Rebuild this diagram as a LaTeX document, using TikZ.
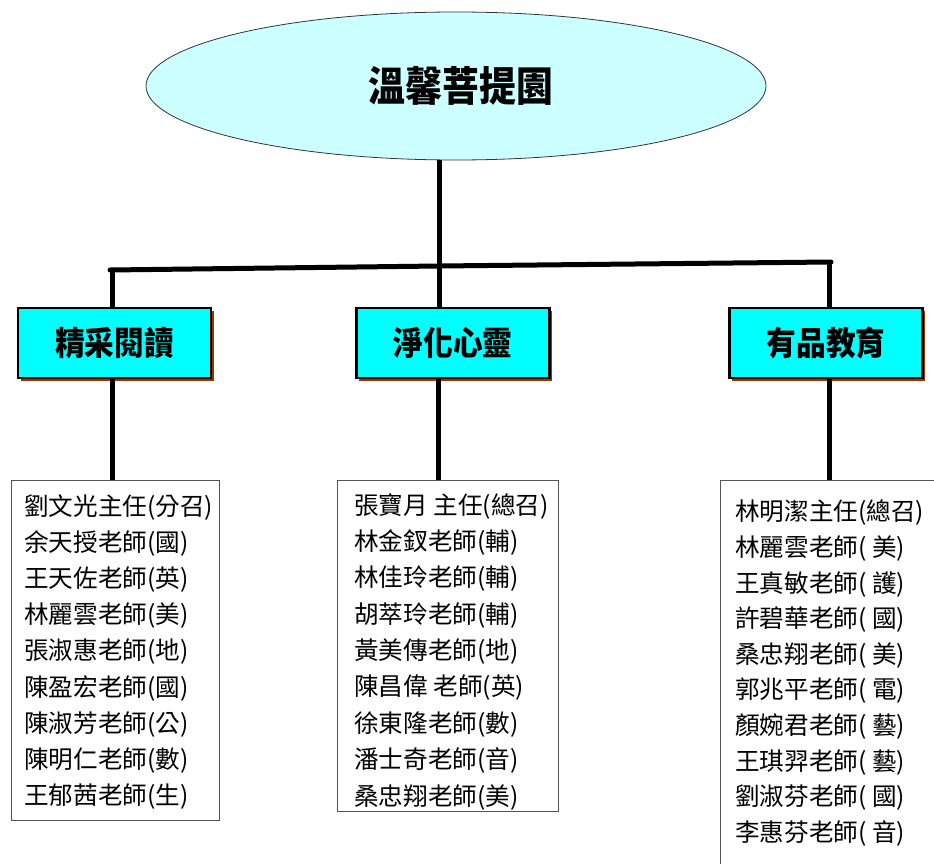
\documentclass[tikz,border=0pt]{standalone}
\usepackage{fontspec}
\newfontfamily\cjk{Noto Sans CJK TC}
\newfontfamily\cjkhead[FakeStretch=0.9]{Noto Sans CJK TC}
\usetikzlibrary{shapes.geometric,shadows}
\definecolor{ellfill}{HTML}{CCFFFF}
\definecolor{boxfill}{HTML}{00FFFF}
\definecolor{shadowbrown}{HTML}{993300}
\definecolor{listedge}{HTML}{555555}
\tikzset{
  rootnode/.style={ellipse, draw=black!80, line width=0.8pt, fill=ellfill,
    minimum width=620pt, minimum height=148pt, inner sep=0pt,
    font=\cjkhead\bfseries\fontsize{41}{44}\selectfont},
  groupbox/.style={rectangle, draw=black, line width=2.5pt, fill=boxfill,
    minimum width=193pt, minimum height=70pt, inner sep=0pt,
    drop shadow={shadow xshift=2.5pt, shadow yshift=-2.5pt, fill=shadowbrown, opacity=1},
    font=\cjkhead\bfseries\fontsize{33}{36}\selectfont},
  listbox/.style={rectangle, draw=listedge, line width=1pt, fill=white,
    inner sep=0pt, anchor=north west},
  item/.style={anchor=west, inner sep=0pt, font=\cjk\fontsize{24.6}{30}\selectfont},
  conn/.style={line width=5pt, line cap=butt},
}
\begin{document}
\begin{tikzpicture}[x=1pt,y=-1pt]
\useasboundingbox (0,0) rectangle (934,864);
\fill[white] (0,0) rectangle (934,864);

% root
\node[rootnode] (root) at (456,86) {\hspace*{10pt}溫馨菩提園};

% junction points
\coordinate (jl) at (112,270);
\coordinate (jc) at (439,266);
\coordinate (jr) at (829,262);

% group boxes
\node[groupbox] (g1) at (114.5,343) {\raisebox{4pt}{精采閱讀}};
\node[groupbox] (g2) at (453,343) {\raisebox{4pt}{淨化心靈}};
\node[groupbox] (g3) at (826,343) {\raisebox{4pt}{有品教育}};

% list boxes
\node[listbox, minimum width=208pt, minimum height=340pt] (la) at (11,480) {};
\node[listbox, minimum width=221pt, minimum height=331pt] (lb) at (337,480) {};
\node[listbox, minimum width=230pt, minimum height=420pt] (lc) at (720,480) {};

% connectors
\draw[conn] (root.south -| jc) -- (jc);
\draw[conn, line cap=round] ([xshift=-2pt]jl) -- (jc) -- ([xshift=2pt]jr);
\draw[conn] ([yshift=-2pt]jl) -- ([yshift=-1.3pt]g1.north -| jl);
\draw[conn] (jc) -- ([yshift=-1.3pt]g2.north -| jc);
\draw[conn] ([yshift=-2pt]jr) -- ([yshift=-1.3pt]g3.north -| jr);
\draw[conn] ([yshift=1.3pt]g1.south -| jl) -- (la.north -| jl);
\draw[conn] ([yshift=1.3pt]g2.south -| 438,0) -- (lb.north -| 438,0);
\draw[conn] ([yshift=1.3pt]g3.south -| jr) -- (lc.north -| jr);

% list items
\foreach \t [count=\i] in {劉文光主任(分召),余天授老師(國),王天佐老師(英),林麗雲老師(美),張淑惠老師(地),陳盈宏老師(國),陳淑芳老師(公),陳明仁老師(數),王郁茜老師(生)}
  {\node[item] (a\i) at (24,{507+36.25*(\i-1)}) {\t};}
\foreach \t [count=\i] in {張寶月 主任(總召),林金釵老師(輔),林佳玲老師(輔),胡萃玲老師(輔),黃美傳老師(地),陳昌偉 老師(英),徐東隆老師(數),潘士奇老師(音),桑忠翔老師(美)}
  {\node[item] (b\i) at (354,{506+36.4*(\i-1)}) {\t};}
\foreach \t [count=\i] in {林明潔主任(總召),林麗雲老師( 美),王真敏老師( 護),許碧華老師( 國),桑忠翔老師( 美),郭兆平老師( 電),顏婉君老師( 藝),王琪羿老師( 藝),劉淑芬老師( 國),李惠芬老師( 音)}
  {\node[item] (c\i) at (735,{513+35.6*(\i-1)}) {\t};}
\end{tikzpicture}
\end{document}
